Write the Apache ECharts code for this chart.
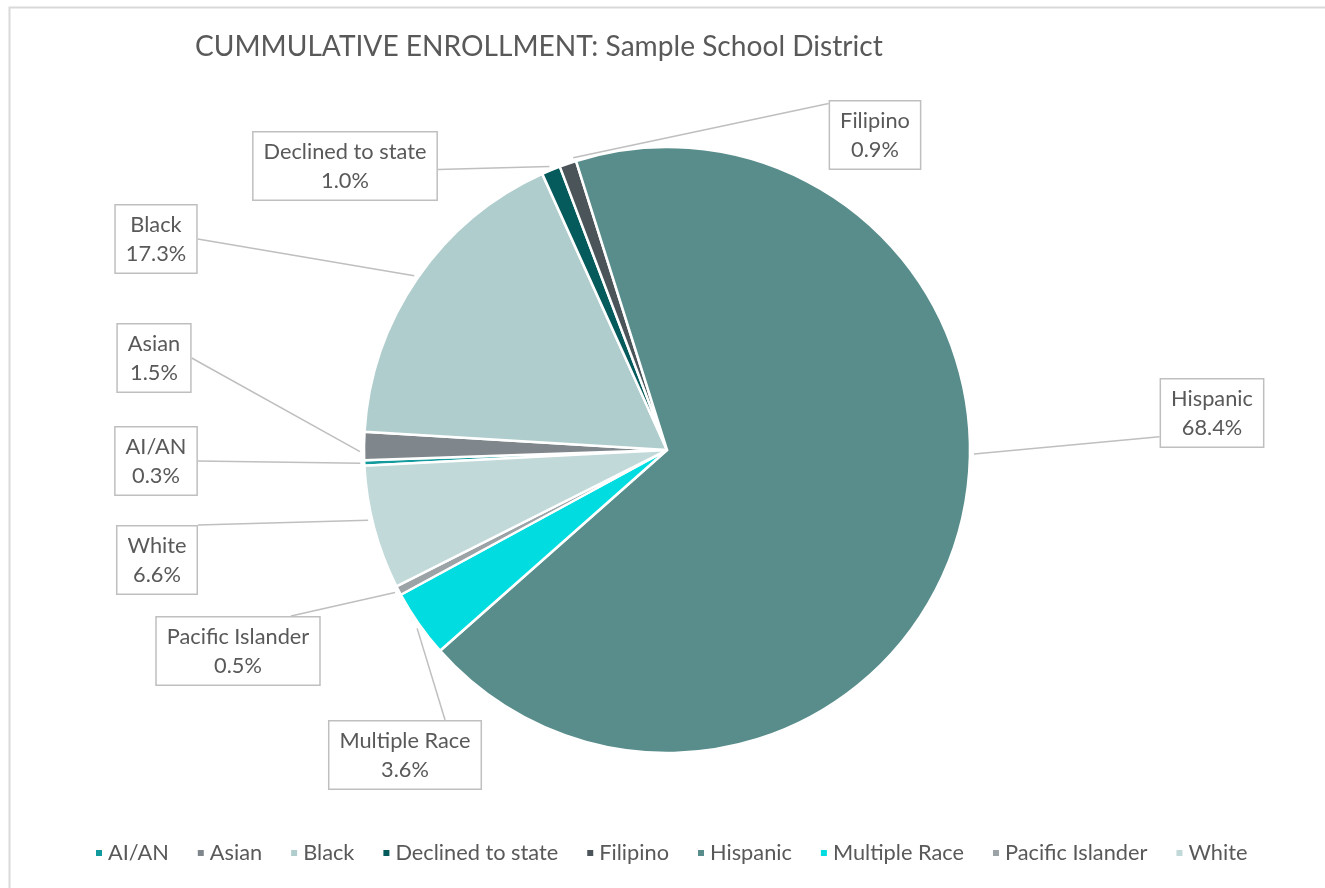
<!DOCTYPE html>
<html>
<head>
<meta charset="utf-8">
<script src="https://cdn.jsdelivr.net/npm/echarts@6/dist/echarts.min.js"></script>
<style>
html,body{margin:0;padding:0;background:#fff;}
#chart{width:1325px;height:888px;}
</style>
</head>
<body>
<div id="chart"></div>
<script>
// ---- data ----
const categories = ['AI/AN', 'Asian', 'Black', 'Declined to state', 'Filipino', 'Hispanic', 'Multiple Race', 'Pacific Islander', 'White'];
const percentValues = [0.3, 1.5, 17.3, 1.0, 0.9, 68.4, 3.6, 0.5, 6.6];
const chartTitle = 'CUMMULATIVE ENROLLMENT: Sample School District';

// ---- styles ----
const sliceColors = ['#139a9c', '#7f878c', '#b0cdcd', '#055a5b', '#4b5459', '#588d8b', '#00dcdf', '#9ba3a6', '#c1d9d9'];
// label box centres (px)
const labelCenters = [
  [156, 461], [154, 358], [156, 239], [345, 166], [875, 135],
  [1212, 413], [405, 755], [238, 651], [157, 560]
];
// where the leader line leaves the slice (fraction of slice sweep, clockwise)
const lineStartFrac = [0.5, 0.3, 0.5, 0.5, 0.9, 0.44, 0.46, 0.5, 0.57];
// where the leader line meets the label box (fraction of box width / height)
const lineEndAttach = [
  [1, 0.5], [1, 0.5], [1, 0.5], [1, 0.55], [0, 0.05],
  [0, 0.84], [0.76, 0], [0.82, 0], [1, 0]
];
const PIE_CENTER = [667, 450];
const PIE_RADIUS = 303;
const LINE_GAP = 4;
const START_ANGLE = 183;
const FONT = 'Lato';
const TEXT_COLOR = '#595959';

function fitSize(text, target) {
  const c = document.createElement('canvas').getContext('2d');
  c.font = '100px ' + FONT;
  return 100 * target / c.measureText(text).width;
}
const titleSize = fitSize(chartTitle, 688);
const labelSize = fitSize('Declined to state', 163);

const total = percentValues.reduce((a, b) => a + b, 0);
function sliceAnchor(i) {
  let cum = 0;
  for (let k = 0; k < i; k++) cum += percentValues[k];
  const a0 = START_ANGLE - 360 * cum / total;
  const sweep = 360 * percentValues[i] / total;
  const a = (a0 - sweep * lineStartFrac[i]) * Math.PI / 180;
  const r = PIE_RADIUS + LINE_GAP;
  return [PIE_CENTER[0] + r * Math.cos(a), PIE_CENTER[1] - r * Math.sin(a)];
}

const chart = echarts.init(document.getElementById('chart'), null, {renderer: 'canvas'});
const option = {
  backgroundColor: '#ffffff',
  animation: false,
  title: {
    text: chartTitle,
    left: 195,
    top: 33,
    padding: 0,
    textStyle: {fontFamily: FONT, fontSize: titleSize, fontWeight: 'normal', color: TEXT_COLOR}
  },
  legend: {
    data: categories,
    left: 94,
    top: 841,
    icon: 'rect',
    itemWidth: 8,
    itemHeight: 8,
    itemGap: 27,
    padding: 0,
    textStyle: {fontFamily: FONT, fontSize: labelSize, color: TEXT_COLOR, lineHeight: 24}
  },
  graphic: [{
    type: 'rect',
    left: 7, top: 5,
    shape: {width: 1340, height: 900},
    style: {fill: 'none', stroke: '#d9d9d9', lineWidth: 2},
    silent: true, z: -1
  }],
  series: [{
    type: 'pie',
    center: PIE_CENTER,
    radius: PIE_RADIUS,
    startAngle: START_ANGLE,
    clockwise: true,
    avoidLabelOverlap: false,
    data: categories.map((name, i) => ({name: name, value: percentValues[i], itemStyle: {color: sliceColors[i]}})),
    itemStyle: {borderColor: '#ffffff', borderWidth: 2.5},
    label: {
      show: true,
      position: 'outside',
      formatter: p => p.name + '\n' + p.value.toFixed(1) + '%',
      fontFamily: FONT,
      fontSize: labelSize,
      lineHeight: 29,
      color: TEXT_COLOR,
      backgroundColor: '#ffffff',
      borderColor: '#bfbfbf',
      borderWidth: 1.5,
      padding: [5, 10, 4, 10],
      align: 'center'
    },
    labelLine: {
      show: true,
      length: 10,
      length2: 0,
      smooth: false,
      lineStyle: {color: '#bfbfbf', width: 1.5}
    },
    labelLayout: function (params) {
      const i = params.dataIndex;
      const p = labelCenters[i];
      const w = params.labelRect.width, h = params.labelRect.height;
      const att = lineEndAttach[i];
      const end = [p[0] - w / 2 + att[0] * w, p[1] - h / 2 + att[1] * h];
      const start = sliceAnchor(i);
      return {
        x: p[0], y: p[1], align: 'center', verticalAlign: 'middle',
        labelLinePoints: [start, end, end]
      };
    },
    emphasis: {disabled: true}
  }]
};
chart.setOption(option);
</script>
</body>
</html>
